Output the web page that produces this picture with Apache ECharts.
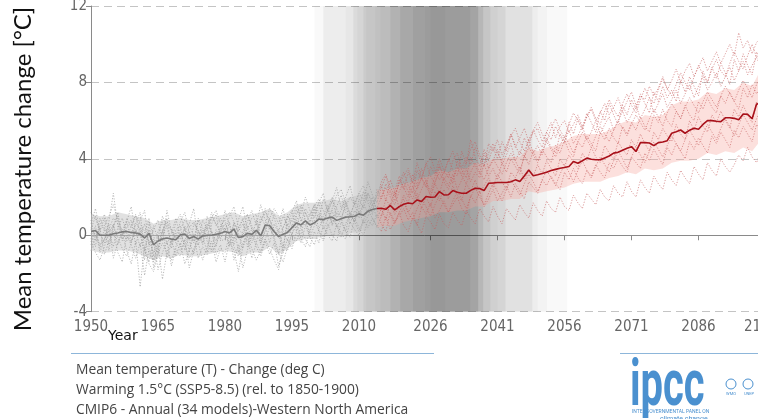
<!DOCTYPE html>
<html><head><meta charset="utf-8">
<script src="https://cdn.jsdelivr.net/npm/echarts/dist/echarts.min.js"></script>
<style>html,body{margin:0;padding:0;background:#fff;overflow:hidden}#c{width:758px;height:419px}</style>
</head><body><div id="c"></div>
<script>
// ---------------- data ----------------
const firstYear = 1950;            // model series are annual from 1950 to 2100
const histStartYear = 1950;        // historical mean 1950..2014
const projStartYear = 2014;        // projection mean 2014..2100
const bandStep = 2;
const xTickYears = [1950, 1965, 1980, 1995, 2010, 2026, 2041, 2056, 2071, 2086, 2100];

const meanHist = [0.2,0.25,0.0,0.0,0.0,0.08,0.12,0.18,0.2,0.15,
  0.12,0.06,-0.14,0.1,-0.5,-0.3,-0.2,-0.14,-0.2,-0.23,
  0.03,0.07,-0.17,-0.06,-0.2,-0.03,0.0,0.0,0.05,0.1,
  0.2,0.12,0.32,-0.12,-0.07,0.1,0.05,0.26,-0.03,0.54,
  0.5,0.2,-0.07,0.05,0.15,0.4,0.65,0.54,0.75,0.54,
  0.65,0.85,0.82,0.9,0.95,0.78,0.87,0.95,0.97,1.0,
  1.12,1.05,1.26,1.35,1.4];
const meanProj = [1.4,1.41,1.36,1.56,1.33,1.5,
  1.62,1.69,1.65,1.85,1.77,2.03,1.99,2.0,2.29,2.11,
  2.12,2.34,2.25,2.2,2.2,2.35,2.46,2.45,2.34,2.72,
  2.74,2.76,2.76,2.76,2.8,2.9,2.81,3.1,3.42,3.12,
  3.17,3.23,3.3,3.39,3.45,3.51,3.55,3.6,3.86,3.77,
  3.9,4.04,3.98,3.95,3.95,4.05,4.15,4.3,4.35,4.45,
  4.55,4.64,4.38,4.85,4.85,4.83,4.69,4.85,4.88,4.95,
  5.34,5.42,5.51,5.34,5.5,5.6,5.55,5.8,6.0,6.0,
  5.97,5.95,6.15,6.15,6.12,6.05,6.35,6.33,6.1,6.87,
  6.9];

// inner spread band (every 2 years)
const histBandLow  = [-0.8,-0.9,-0.9,-0.8,-0.8,-0.9,-1.1,-1.3,-1.1,-1.2,-1.0,-1.1,-1.1,-1.0,-0.9,-0.8,-0.9,-1.1,-0.9,-0.9,-0.6,-1.0,-0.7,-0.3,-0.2,-0.2,0.0,0.0,-0.1,0.1,0.2,0.3,0.4];
const histBandHigh = [1.1,1.0,1.0,1.2,1.1,1.0,0.9,0.6,0.8,0.8,0.9,0.8,0.8,0.9,1.0,1.1,1.2,1.0,1.1,1.2,1.4,1.0,1.2,1.6,1.7,1.7,1.8,1.9,1.8,2.0,2.1,2.3,2.4];
const projBandLow  = [0.4,0.5,0.5,0.7,0.8,0.9,1.0,1.2,1.2,1.3,1.3,1.5,1.5,1.8,1.8,1.9,1.9,2.3,2.2,2.3,2.4,2.5,2.7,2.8,2.8,2.8,3.0,3.1,3.3,3.2,3.5,3.4,3.5,3.8,3.9,3.9,4.0,4.3,4.2,4.4,4.3,4.6,4.4,5.0];
const projBandHigh = [2.4,2.4,2.5,2.7,2.8,3.0,3.1,3.4,3.3,3.5,3.5,3.8,3.7,4.0,4.0,4.1,4.1,4.6,4.4,4.6,4.7,4.9,5.2,5.3,5.3,5.3,5.5,5.8,6.0,5.9,6.3,6.2,6.3,6.8,7.0,7.0,7.1,7.5,7.4,7.7,7.6,8.0,7.8,8.7];

// individual model runs (annual 1950..2100)
const modelA = [0.8,-0.3,0.5,1.1,0.2,-0.6,0.4,0.9,0.1,-0.4,
  0.6,1.2,-0.8,0.3,-1.1,0.2,0.7,-0.5,0.1,0.9,
  -0.2,0.4,-0.9,0.6,0.3,-0.4,1.0,0.2,-0.6,0.5,
  0.8,-0.1,0.6,-0.9,0.2,1.1,0.3,-0.4,0.7,1.4,
  0.5,-0.3,-1.0,0.4,0.9,1.3,0.2,1.5,0.8,0.1,
  1.2,1.7,0.6,1.4,2.0,0.9,1.3,1.8,1.1,0.7,
  1.9,1.4,2.2,1.6,2.1,2.6,1.8,2.9,2.3,3.1,
  2.4,3.3,2.7,3.8,3.0,2.5,3.6,3.2,4.0,3.4,
  3.0,3.9,4.3,3.5,4.1,3.7,4.6,4.0,3.6,4.8,
  4.4,5.0,4.2,4.7,5.3,4.6,5.1,5.6,4.9,5.4,
  5.6,4.9,5.4,5.9,5.1,5.7,6.0,5.4,5.8,6.3,
  5.7,6.2,6.6,6.0,6.4,6.9,6.3,6.7,7.2,6.5,
  7.0,7.5,6.8,7.3,7.1,7.8,7.3,7.7,8.3,7.6,
  8.1,8.7,8.0,8.6,9.0,8.3,8.8,9.3,8.6,9.1,
  9.6,9.0,9.5,10.0,9.4,10.6,9.8,10.2,9.5,10.1,
  10.3];
const modelB = [-0.5,0.3,-0.9,-0.2,0.6,-1.2,-0.4,0.1,-0.8,-1.5,
  -0.3,-2.7,-0.6,-1.4,-0.2,-1.8,-0.9,-0.3,-1.6,-0.7,
  -1.1,-0.2,-1.7,-0.8,-0.4,-1.3,-0.6,0.2,-1.0,-0.5,
  -1.4,-0.3,-0.8,-1.9,-0.6,-0.1,-1.2,-0.4,-0.9,-0.2,
  -0.7,-1.3,-1.8,-0.5,-0.8,0.1,-0.3,0.4,-0.2,-0.6,
  0.2,-0.4,0.5,0.0,-0.3,0.6,0.1,-0.2,0.7,0.3,
  0.0,0.8,0.4,0.9,0.5,0.2,1.0,0.3,0.7,1.2,
  0.5,0.2,0.9,0.6,0.1,1.0,0.7,0.3,1.1,0.6,
  0.4,1.2,0.8,0.5,1.3,0.9,0.6,1.4,1.0,0.7,
  1.5,1.0,0.6,1.4,1.1,0.8,1.6,1.2,0.9,1.7,
  1.3,1.0,1.8,1.4,1.2,2.0,1.5,1.3,2.1,1.7,
  1.4,2.2,1.9,1.6,2.4,2.0,1.8,2.6,2.2,2.0,
  2.8,2.3,2.0,2.9,2.5,2.2,3.1,2.7,2.4,3.3,
  2.9,2.6,3.4,3.0,2.7,3.6,3.2,2.9,3.8,3.4,
  3.1,4.0,3.6,3.3,3.7,4.2,3.9,4.6,4.1,3.8,
  4.4];
const modelC = [0.3,1.0,0.1,-0.4,0.7,2.2,0.5,-0.2,0.9,0.4,
  1.1,0.0,0.6,-0.5,0.3,0.8,-0.3,1.3,0.2,-0.1,
  0.7,1.2,0.1,-0.3,0.9,0.4,-0.2,1.0,0.6,0.1,
  1.3,0.5,-0.2,0.8,1.5,0.3,0.9,1.1,-0.3,0.6,
  1.4,0.9,0.2,1.0,0.5,1.2,1.8,0.7,1.4,1.0,
  1.6,0.8,1.9,1.3,0.6,1.5,2.1,1.2,0.9,1.8,
  1.4,2.3,1.7,1.1,2.4,1.9,2.7,2.2,1.8,2.9,
  2.5,2.0,3.2,2.6,3.5,2.8,2.3,3.1,3.7,2.9,
  3.3,2.7,3.9,3.4,3.0,4.1,3.6,3.2,4.3,3.5,
  3.9,4.5,3.7,4.2,4.8,3.9,4.4,4.1,5.0,4.3,
  4.7,4.2,5.1,4.6,4.3,5.3,4.9,5.5,4.8,5.2,
  5.7,5.0,5.4,6.0,5.3,5.8,6.2,5.5,6.0,6.5,
  5.9,6.3,6.8,6.1,6.6,7.2,6.4,6.9,7.4,6.7,
  7.1,7.6,6.9,7.4,7.9,7.2,7.8,8.3,7.6,8.0,
  8.5,7.8,8.3,8.8,8.1,8.6,9.1,8.4,8.9,9.3,
  8.8];
const modelD = [-0.2,0.5,-0.7,0.4,-0.1,0.6,-0.5,0.3,0.7,-0.3,
  0.2,-0.6,0.1,0.9,-1.7,-0.8,0.3,-1.2,-0.4,0.1,
  -0.6,0.5,-0.3,-1.0,0.2,-0.5,0.4,-0.8,0.3,-0.2,
  0.4,-0.6,0.7,0.1,-0.7,0.5,-0.2,0.8,-0.5,0.2,
  0.9,-0.1,0.3,-0.6,0.6,0.0,1.0,0.4,0.8,-0.1,
  0.5,1.1,0.3,0.8,1.3,0.4,0.9,0.2,1.2,0.7,
  1.3,0.6,1.0,1.6,0.9,1.4,0.8,1.7,1.1,1.5,
  1.9,1.2,1.6,2.2,1.4,2.0,1.5,2.3,1.8,2.4,
  1.9,2.6,2.1,1.8,2.7,2.3,2.9,2.2,2.6,3.0,
  2.5,3.2,2.8,2.4,3.3,3.0,3.6,2.9,3.4,3.1,
  3.7,3.2,3.9,3.5,3.1,4.0,3.6,4.2,3.8,3.5,
  4.3,3.9,4.6,4.1,3.8,4.7,4.3,4.0,4.9,4.5,
  4.2,5.0,4.6,5.3,4.8,4.4,5.4,5.0,5.6,5.2,
  4.9,5.8,5.3,5.0,6.0,5.5,6.2,5.7,5.4,6.3,
  5.9,6.5,6.0,5.6,6.6,6.2,6.8,6.3,5.9,7.0,
  6.5];
const modelE = [0.6,1.4,0.2,0.9,-0.5,0.4,1.2,0.0,0.7,1.5,
  0.1,0.8,1.3,-0.6,0.5,-0.2,1.0,0.4,-0.4,0.7,
  1.1,0.2,0.6,1.4,-0.3,0.8,0.3,1.2,0.5,0.9,
  0.2,1.0,1.5,0.4,0.0,0.7,1.3,0.5,1.6,0.8,
  0.3,1.1,0.6,1.4,0.2,0.9,1.5,1.1,2.0,1.3,
  0.9,1.7,2.2,1.2,1.8,2.5,1.4,2.0,2.6,1.6,
  2.2,1.8,2.8,2.1,1.7,2.5,3.1,2.3,2.0,2.8,
  3.3,2.6,2.2,3.4,2.9,3.8,3.1,2.7,3.6,3.2,
  4.0,3.4,3.1,4.4,3.7,5.0,4.1,3.6,4.5,3.9,
  4.6,4.0,4.9,4.4,5.3,4.7,4.2,5.1,4.6,5.5,
  5.0,4.6,5.4,5.0,5.7,5.2,4.8,5.9,5.3,6.1,
  5.6,6.4,5.9,5.4,6.5,6.0,6.9,6.3,5.8,6.8,
  6.3,7.1,6.6,7.4,6.9,6.4,7.5,7.0,7.8,7.2,
  7.6,7.0,8.1,7.5,8.3,7.8,7.3,8.6,8.0,8.8,
  8.2,9.0,8.5,7.9,9.2,8.6,9.5,8.9,8.4,9.6,
  9.1];
const modelF = [-0.8,-0.1,0.4,-1.0,-0.3,0.2,-0.9,-1.4,0.0,-0.5,
  -1.2,-0.4,-2.1,-0.7,-1.3,-0.5,-2.3,-0.9,-0.2,-1.1,
  -0.4,-1.5,-0.8,0.0,-1.2,-0.6,-1.0,-0.3,-1.4,-0.7,
  -0.9,0.0,-1.3,-0.5,-1.7,-0.8,0.1,-0.6,-1.1,-0.3,
  -1.0,-0.4,-1.6,-0.9,-0.2,-0.7,0.2,-0.4,0.5,-0.1,
  -0.5,0.3,-0.2,0.6,0.0,-0.3,0.7,0.2,-0.1,0.9,
  0.4,0.0,0.8,0.5,1.1,0.6,0.2,1.2,0.7,1.0,
  1.4,0.8,1.2,0.5,1.5,1.1,1.7,0.9,1.3,1.8,
  1.2,1.6,2.0,1.4,1.1,2.1,1.7,2.3,1.5,1.9,
  2.4,1.8,2.2,2.6,2.0,2.7,2.3,1.9,2.8,2.5,
  2.2,2.9,2.6,3.1,2.7,2.4,3.3,2.9,3.5,3.0,
  2.7,3.4,3.1,3.7,3.3,3.0,3.8,3.5,4.0,3.6,
  3.3,4.1,3.8,3.5,4.3,3.9,4.5,4.1,3.7,4.6,
  4.2,4.8,4.4,4.0,4.9,4.5,5.1,4.7,4.3,5.2,
  4.8,5.4,5.0,4.6,5.5,5.1,5.7,5.3,4.9,5.8,
  5.4];
const modelG = [0.1,-0.6,0.9,0.3,-0.8,0.5,1.0,-0.3,0.4,0.8,
  -0.5,0.4,-1.3,0.7,0.0,-1.0,0.2,0.9,-0.7,0.3,
  0.5,-0.8,0.2,-0.4,0.8,0.0,-0.9,0.6,1.1,-0.3,
  -0.2,0.7,-0.5,0.3,0.9,-0.6,0.4,0.0,1.0,0.5,
  -0.4,0.6,0.1,-0.9,1.1,0.4,0.8,-0.1,1.2,0.6,
  1.4,0.3,1.0,1.6,0.5,1.2,0.8,1.7,0.6,1.3,
  0.9,1.6,1.2,2.0,1.3,1.0,1.9,1.5,2.3,1.4,
  2.1,1.7,2.6,1.9,2.4,2.9,2.0,2.7,2.2,3.0,
  2.6,3.2,2.4,2.9,3.5,2.8,3.3,3.0,3.7,3.1,
  3.5,2.9,3.8,3.3,4.0,3.6,3.2,4.2,3.7,4.4,
  3.9,4.5,4.1,3.8,4.7,4.3,5.0,4.4,4.1,4.9,
  4.6,5.2,4.8,4.4,5.4,5.0,5.6,5.1,4.8,5.7,
  5.3,5.9,5.5,6.2,5.7,5.4,6.3,5.9,6.6,6.0,
  5.7,6.5,6.1,6.8,6.3,6.0,7.0,6.6,7.2,6.7,
  6.4,7.3,6.9,7.5,7.0,6.6,7.7,7.2,7.9,7.4,
  7.8];
const modelH = [1.2,0.9,0.3,0.5,1.0,1.6,0.8,0.2,-0.3,0.1,
  0.6,0.4,-0.2,-0.9,-1.4,-0.6,0.0,0.5,0.3,-0.4,
  -0.8,-0.3,0.4,0.7,0.2,-0.1,0.5,0.9,1.3,0.6,
  0.1,-0.5,-0.2,0.4,0.8,1.1,0.5,0.0,-0.4,0.3,
  0.9,1.4,1.0,0.2,-0.3,0.5,1.1,1.6,1.2,0.7,
  1.5,1.9,1.3,0.8,1.4,2.1,2.4,1.7,1.1,1.6,
  2.2,2.6,1.9,1.5,2.0,2.8,3.2,2.5,2.1,2.7,
  3.1,3.5,2.8,2.4,3.0,3.7,4.1,3.4,2.9,3.3,
  3.9,4.4,3.6,3.2,3.8,4.5,4.9,4.2,3.7,4.3,
  4.8,4.3,3.9,4.6,5.2,5.6,4.9,4.4,5.0,5.5,
  5.9,5.3,4.9,5.6,6.1,5.5,5.1,5.8,6.4,6.0,
  5.5,6.2,6.7,6.1,5.8,6.5,7.1,6.6,6.2,6.9,
  7.4,6.8,6.4,7.1,7.7,7.2,6.9,7.6,8.2,7.7,
  7.3,7.9,8.5,8.0,7.6,8.3,8.9,8.4,8.0,8.7,
  9.2,8.6,8.3,9.0,9.6,9.1,8.7,9.4,10.0,9.3,
  9.7];
const modelI = [-0.3,-0.9,-1.3,-0.6,0.2,0.5,-0.1,-0.7,-1.1,-0.4,
  0.3,0.0,-0.8,-1.5,-1.9,-1.0,-0.4,-0.9,-1.3,-0.6,
  0.1,-0.5,-1.2,-0.7,-0.2,0.3,-0.3,-0.9,-0.5,0.2,
  0.6,0.1,-0.6,-1.1,-0.4,0.0,-0.7,-1.3,-0.8,-0.2,
  0.4,-0.1,-0.9,-1.4,-0.6,0.1,0.5,-0.2,-0.6,0.3,
  0.8,0.2,-0.3,0.4,0.9,0.5,-0.1,0.6,1.1,0.7,
  0.2,0.8,1.3,0.9,0.4,1.0,1.5,1.1,0.6,1.2,
  1.7,1.2,0.8,1.4,1.9,1.5,1.0,1.6,2.1,1.6,
  1.2,1.8,2.3,1.9,1.4,2.0,2.5,2.0,1.6,2.2,
  2.7,2.3,1.8,2.4,2.9,2.5,2.1,2.7,3.2,2.8,
  2.3,2.9,3.4,3.0,2.6,3.2,3.7,3.3,2.8,3.4,
  3.9,3.4,3.0,3.6,4.1,3.7,3.3,3.9,4.4,4.0,
  3.5,4.1,4.6,4.2,3.8,4.4,4.9,4.5,4.1,4.7,
  5.2,4.8,4.4,5.0,5.5,5.1,4.7,5.3,5.8,5.4,
  5.0,5.6,6.1,5.7,5.2,5.8,6.3,5.9,5.5,6.1,
  6.6];
const modelJ = [0.4,0.0,-0.5,-0.2,0.3,0.9,0.6,0.1,-0.2,0.5,
  1.0,0.6,0.2,-0.3,-0.9,-0.4,0.2,0.7,0.3,-0.2,
  0.3,0.8,0.5,0.0,-0.5,0.1,0.6,0.2,-0.3,0.4,
  0.9,1.2,0.7,0.2,0.6,0.1,-0.4,0.2,0.7,1.2,
  0.8,0.3,-0.1,0.4,1.0,0.7,1.3,0.9,0.5,1.1,
  1.6,1.2,0.7,1.3,1.8,1.4,0.9,1.5,2.0,1.6,
  1.1,1.7,2.2,1.8,1.4,2.0,2.5,2.0,1.6,2.3,
  2.8,2.3,1.9,2.5,3.0,2.6,2.1,2.8,3.3,2.8,
  2.4,3.0,3.5,3.1,2.7,3.3,3.8,3.3,2.9,3.5,
  4.0,3.6,3.2,3.8,4.3,3.9,3.4,4.1,4.6,4.2,
  3.8,4.4,4.9,4.5,4.1,4.7,5.2,4.8,4.3,4.9,
  5.4,5.0,4.6,5.2,5.7,5.3,4.9,5.5,6.0,5.6,
  5.2,5.8,6.3,5.9,5.5,6.1,6.6,6.2,5.7,6.4,
  6.9,6.5,6.1,6.7,7.2,6.8,6.4,7.0,7.5,7.1,
  6.7,7.3,7.8,7.4,7.0,7.6,8.1,7.7,7.2,7.9,
  8.3];
const models = [modelA, modelB, modelC, modelD, modelE, modelF, modelG, modelH, modelI, modelJ];

// shaded period: start / end years of the models' windows for the +1.5 °C warming level
const windowStarts = [2000, 2002, 2002, 2007, 2008.7, 2008.7, 2009.6, 2011, 2011, 2011.6,
  2013.6, 2014.8, 2017, 2017, 2019.2, 2019.2, 2022.1, 2022.1, 2024.8, 2026];
const windowEnds = [2029.3, 2034.9, 2034.9, 2036.7, 2036.7, 2036.7, 2036.7, 2037.8, 2037.8, 2037.8,
  2039.4, 2039.4, 2041, 2042.8, 2042.8, 2048.8, 2048.8, 2050, 2052.1, 2056.6];

// ---------------- chart ----------------
const chart = echarts.init(document.getElementById('c'), null, {renderer: 'canvas'});

const pxPerYear = 4.467;
const gridLeft = 91, gridTop = 6, gridH = 305.7;
const xMin = 1950, xMax = 2100;
const splitX = 380;   // pixel where historical runs turn into projections
const modelColor = {
  type: 'linear', x: 0, y: 0, x2: 758, y2: 0, global: true,
  colorStops: [
    {offset: 0, color: 'rgba(150,150,150,0.65)'},
    {offset: splitX / 758, color: 'rgba(150,150,150,0.65)'},
    {offset: splitX / 758, color: 'rgba(198,92,92,0.6)'},
    {offset: 1, color: 'rgba(198,92,92,0.6)'}
  ]
};

function bandSeries(startYear, low, high, fill) {
  const data = low.map((v, i) => [startYear + i * bandStep, v, high[i]]);
  return {
    type: 'custom', silent: true, z: 2, clip: true,
    data: data,
    encode: {x: 0, y: [1, 2]},
    renderItem: function (params, api) {
      if (params.dataIndex !== 0) return;
      const pts = [];
      for (let i = 0; i < data.length; i++) pts.push(api.coord([data[i][0], data[i][2]]));
      for (let i = data.length - 1; i >= 0; i--) pts.push(api.coord([data[i][0], data[i][1]]));
      return {type: 'polygon', shape: {points: pts}, style: {fill: fill}};
    }
  };
}

const series = [];
series.push({
  type: 'line', data: [], silent: true, z: 1,
  markArea: {
    silent: true,
    itemStyle: {color: 'rgba(0,0,0,0.025)'},
    data: windowStarts.map((s, i) => [{xAxis: s}, {xAxis: windowEnds[i]}])
  }
});
series.push(bandSeries(histStartYear, histBandLow, histBandHigh, 'rgba(195,195,195,0.5)'));
series.push(bandSeries(projStartYear, projBandLow, projBandHigh, 'rgba(245,165,155,0.34)'));
models.forEach(m => {
  series.push({
    type: 'line', silent: true, z: 3, symbol: 'none',
    data: m.map((v, i) => [firstYear + i, v]),
    lineStyle: {width: 1, type: [1.2, 1.6], color: modelColor}
  });
});
series.push({
  type: 'line', silent: true, z: 5, symbol: 'none',
  data: meanHist.map((v, i) => [histStartYear + i, v]),
  lineStyle: {width: 1.6, color: '#7a7a7a'}
});
series.push({
  type: 'line', silent: true, z: 6, symbol: 'none',
  data: meanProj.map((v, i) => [projStartYear + i, v]),
  lineStyle: {width: 1.6, color: '#a8111a'}
});

const tickFont = "'DejaVu Sans Condensed', 'DejaVu Sans', sans-serif";
const bottomFont = "13.8px 'Open Sans'";
chart.setOption({
  animation: false,
  backgroundColor: '#fff',
  grid: {left: gridLeft, top: gridTop, width: (xMax - xMin) * pxPerYear, height: gridH, outerBoundsMode: 'none', containLabel: false},
  xAxis: {
    type: 'value', min: xMin, max: xMax,
    axisLine: {show: true, lineStyle: {color: '#8a8a8a', width: 1}},
    axisTick: {show: true, length: 5, customValues: xTickYears, lineStyle: {color: '#8a8a8a'}},
    axisLabel: {show: true, customValues: xTickYears, margin: 8, color: '#666', fontSize: 15, fontFamily: tickFont,
      formatter: v => String(v)},
    splitLine: {show: false}
  },
  yAxis: {
    type: 'value', min: -4, max: 12, interval: 4,
    axisLine: {show: true, lineStyle: {color: '#8a8a8a', width: 1}},
    axisTick: {show: true, length: 5, lineStyle: {color: '#8a8a8a'}},
    axisLabel: {color: '#666', fontSize: 15, fontFamily: tickFont, margin: 4},
    splitLine: {show: true, lineStyle: {color: '#c4c4c4', type: [8, 5], width: 1}}
  },
  series: series,
  graphic: [
    {type: 'text', x: 23, y: 169, rotation: Math.PI / 2,
      style: {text: 'Mean temperature change [°C]', fill: '#111', font: '24px Lato', align: 'center', verticalAlign: 'middle'}},
    {type: 'text', x: 108, y: 336,
      style: {text: 'Year', fill: '#111', font: "14px 'DejaVu Sans'", align: 'left', verticalAlign: 'middle'}},
    {type: 'line', shape: {x1: 71, y1: 353.5, x2: 434, y2: 353.5}, style: {stroke: '#8db6da', lineWidth: 1}},
    {type: 'line', shape: {x1: 620, y1: 353.5, x2: 758, y2: 353.5}, style: {stroke: '#8db6da', lineWidth: 1}},
    {type: 'text', x: 76, y: 370.5, style: {text: 'Mean temperature (T) - Change (deg C)', fill: '#444', font: bottomFont, verticalAlign: 'middle'}},
    {type: 'text', x: 76, y: 390.5, style: {text: 'Warming 1.5°C (SSP5-8.5) (rel. to 1850-1900)', fill: '#444', font: bottomFont, verticalAlign: 'middle'}},
    {type: 'text', x: 76, y: 410.5, style: {text: 'CMIP6 - Annual (34 models)-Western North America', fill: '#444', font: bottomFont, verticalAlign: 'middle'}},
    {type: 'text', x: 630, y: 421.5, scaleX: 0.74, scaleY: 1.2,
      style: {text: 'ipcc', fill: '#4a90cf', font: 'bold 54px Roboto', align: 'left', verticalAlign: 'bottom'}},
    {type: 'text', x: 632, y: 412, style: {text: 'INTERGOVERNMENTAL PANEL ON', fill: '#4a90cf', font: '5px Roboto', verticalAlign: 'middle'}},
    {type: 'text', x: 660, y: 419, style: {text: 'climate change', fill: '#4a90cf', font: '7px Roboto', verticalAlign: 'middle'}},
    {type: 'circle', shape: {cx: 731, cy: 384, r: 5}, style: {fill: 'none', stroke: '#4a90cf', lineWidth: 1}},
    {type: 'circle', shape: {cx: 748, cy: 384, r: 5}, style: {fill: 'none', stroke: '#4a90cf', lineWidth: 1}},
    {type: 'text', x: 731, y: 394, style: {text: 'WMO', fill: '#4a90cf', font: '4px Roboto', align: 'center', verticalAlign: 'middle'}},
    {type: 'text', x: 749, y: 394, style: {text: 'UNEP', fill: '#4a90cf', font: '4px Roboto', align: 'center', verticalAlign: 'middle'}}
  ]
});
</script>
</body></html>
